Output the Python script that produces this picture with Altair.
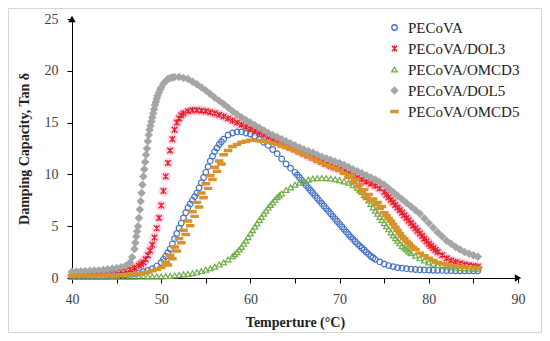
import altair as alt
import pandas as pd

# Temperature sampling (°C)
T = [40.0, 40.5, 41.0, 41.5, 42.0, 42.5, 43.0, 43.5, 44.0, 44.5,
     45.0, 45.5, 46.0, 46.5, 47.0, 47.5, 48.0, 48.5, 49.0, 49.5,
     50.0, 50.5, 51.0, 51.5, 52.0, 52.5, 53.0, 53.5, 54.0, 54.5,
     55.0, 55.5, 56.0, 56.5, 57.0, 57.5, 58.0, 58.5, 59.0, 59.5,
     60.0, 60.5, 61.0, 61.5, 62.0, 62.5, 63.0, 63.5, 64.0, 64.5,
     65.0, 65.5, 66.0, 66.5, 67.0, 67.5, 68.0, 68.5, 69.0, 69.5,
     70.0, 70.5, 71.0, 71.5, 72.0, 72.5, 73.0, 73.5, 74.0, 74.5,
     75.0, 75.5, 76.0, 76.5, 77.0, 77.5, 78.0, 78.5, 79.0, 79.5,
     80.0, 80.5, 81.0, 81.5, 82.0, 82.5, 83.0, 83.5, 84.0, 84.5,
     85.0, 85.5]

PECoVA = [0.15, 0.15, 0.16, 0.17, 0.18, 0.19, 0.20, 0.21, 0.23, 0.25,
          0.27, 0.30, 0.33, 0.37, 0.42, 0.50, 0.60, 0.72, 0.90, 1.15,
          1.5, 2.1, 2.8, 3.8, 4.8, 5.8, 6.8, 7.5, 8.2, 9.2,
          10.2, 11.3, 12.2, 12.9, 13.4, 13.8, 14.0, 14.1, 14.1, 14.0,
          13.9, 13.7, 13.4, 13.1, 12.8, 12.4, 12.0, 11.5, 11.0, 10.6,
          10.2, 9.7, 9.2, 8.7, 8.2, 7.7, 7.2, 6.7, 6.2, 5.7,
          5.2, 4.7, 4.2, 3.75, 3.3, 2.9, 2.5, 2.1, 1.8, 1.55,
          1.35, 1.2, 1.1, 1.0, 0.95, 0.9, 0.85, 0.82, 0.8, 0.78,
          0.76, 0.75, 0.74, 0.73, 0.72, 0.71, 0.7, 0.7, 0.7, 0.7,
          0.7, 0.7]
PECoVA_xT = [50.25, 50.75, 51.25, 51.75, 52.25, 52.75, 53.25, 53.75, 54.25, 54.75,
             55.25, 55.75, 56.25, 56.75, 65.25, 65.75, 66.25, 66.75, 67.25, 67.75,
             68.25, 68.75, 69.25, 69.75, 70.25, 70.75, 71.25, 71.75, 72.25, 72.75,
             73.25, 73.75]
PECoVA_xV = [1.8, 2.45, 3.3, 4.3, 5.3, 6.3, 7.15, 7.85, 8.7, 9.7,
             10.75, 11.75, 12.55, 13.15, 9.95, 9.45, 8.95, 8.45, 7.95, 7.45,
             6.95, 6.45, 5.95, 5.45, 4.95, 4.45, 3.97, 3.52, 3.1, 2.7,
             2.3, 1.95]

DOL3 = [0.30, 0.31, 0.32, 0.33, 0.35, 0.37, 0.39, 0.41, 0.44, 0.48,
        0.55, 0.62, 0.70, 0.82, 1.0, 1.2, 1.5, 2.2, 3.2, 4.8,
        7.0, 9.8, 12.3, 14.3, 15.4, 15.9, 16.1, 16.2, 16.2, 16.15,
        16.1, 16.0, 15.9, 15.75, 15.6, 15.4, 15.2, 15.0, 14.8, 14.6,
        14.4, 14.2, 14.0, 13.8, 13.6, 13.4, 13.2, 13.0, 12.8, 12.6,
        12.4, 12.2, 12.0, 11.8, 11.6, 11.4, 11.2, 11.0, 10.8, 10.65,
        10.5, 10.3, 10.1, 9.9, 9.7, 9.5, 9.3, 9.1, 8.9, 8.65,
        8.3, 7.8, 7.3, 6.8, 6.3, 5.8, 5.3, 4.8, 4.3, 3.8,
        3.3, 2.9, 2.5, 2.2, 1.9, 1.7, 1.55, 1.42, 1.3, 1.22,
        1.15, 1.1]
DOL3_xT = [47.75, 48.25, 48.75, 49.25, 49.75, 50.25, 50.75, 51.25, 51.75, 52.25,
           75.25, 75.75, 76.25, 76.75, 77.25, 77.75, 78.25, 78.75, 79.25, 79.75,
           80.25, 80.75]
DOL3_xV = [1.35, 1.8, 2.65, 3.9, 5.8, 8.4, 11.1, 13.4, 15.0, 15.7,
           8.05, 7.55, 7.05, 6.55, 6.05, 5.55, 5.05, 4.55, 4.05, 3.55,
           3.1, 2.7]

OMCD3 = [0.10, 0.10, 0.10, 0.10, 0.10, 0.10, 0.11, 0.11, 0.11, 0.12,
         0.12, 0.12, 0.13, 0.13, 0.13, 0.14, 0.14, 0.15, 0.15, 0.15,
         0.15, 0.17, 0.2, 0.25, 0.3, 0.35, 0.4, 0.47, 0.55, 0.67,
         0.8, 0.95, 1.1, 1.3, 1.5, 1.8, 2.1, 2.5, 3.0, 3.6,
         4.3, 4.95, 5.6, 6.2, 6.8, 7.3, 7.8, 8.15, 8.5, 8.75,
         9.0, 9.2, 9.35, 9.5, 9.6, 9.63, 9.65, 9.63, 9.6, 9.53,
         9.45, 9.33, 9.2, 8.95, 8.7, 8.3, 7.8, 7.15, 6.5, 5.9,
         5.3, 4.7, 4.1, 3.6, 3.1, 2.75, 2.4, 2.15, 1.9, 1.7,
         1.5, 1.37, 1.25, 1.17, 1.1, 1.05, 1.0, 0.97, 0.95, 0.92,
         0.9, 0.9]
OMCD3_xT = [58.25, 58.75, 59.25, 59.75, 60.25, 60.75, 61.25, 61.75, 62.25, 62.75,
            63.25, 72.25, 72.75, 73.25, 73.75, 74.25, 74.75, 75.25, 75.75, 76.25,
            76.75, 77.25, 77.75]
OMCD3_xV = [2.3, 2.75, 3.3, 3.95, 4.62, 5.27, 5.9, 6.5, 7.05, 7.55,
            7.98, 8.5, 8.05, 7.48, 6.82, 6.2, 5.6, 5.0, 4.4, 3.85,
            3.35, 2.92, 2.57]

DOL5 = [0.60, 0.62, 0.65, 0.67, 0.70, 0.72, 0.75, 0.78, 0.85, 0.90,
        0.95, 1.05, 1.15, 1.5, 2.8, 5.8, 9.8, 13.2, 15.5, 17.3,
        18.4, 19.0, 19.3, 19.4, 19.4, 19.3, 19.2, 18.95, 18.7, 18.4,
        18.1, 17.75, 17.4, 17.1, 16.8, 16.45, 16.1, 15.8, 15.5, 15.25,
        15.0, 14.75, 14.5, 14.25, 14.0, 13.8, 13.6, 13.4, 13.2, 13.0,
        12.8, 12.6, 12.4, 12.25, 12.1, 11.9, 11.7, 11.55, 11.4, 11.25,
        11.1, 10.9, 10.7, 10.5, 10.3, 10.1, 9.9, 9.7, 9.5, 9.25,
        9.0, 8.65, 8.3, 7.95, 7.6, 7.25, 6.9, 6.55, 6.2, 5.75,
        5.3, 4.85, 4.4, 4.0, 3.6, 3.3, 3.0, 2.75, 2.5, 2.35,
        2.2, 2.05]
DOL5_xT = [46.75, 47.1, 47.2, 47.3, 47.4, 47.6, 47.7, 47.8, 47.9, 48.1,
           48.2, 48.3, 48.4, 48.6, 48.7, 48.8, 48.9, 49.1, 49.2, 49.3,
           49.4, 49.6, 49.75, 49.9, 50.25, 50.75, 51.25]
DOL5_xV = [2.0, 3.4, 4.0, 4.5, 5.0, 6.6, 7.4, 8.2, 9.0, 10.5,
           11.2, 11.9, 12.5, 13.8, 14.3, 14.7, 15.1, 15.9, 16.3, 16.7,
           17.0, 17.6, 17.9, 18.2, 18.75, 19.2, 19.35]

OMCD5 = [0.20, 0.20, 0.21, 0.21, 0.22, 0.23, 0.24, 0.25, 0.26, 0.28,
         0.30, 0.32, 0.34, 0.37, 0.40, 0.45, 0.50, 0.58, 0.70, 0.85,
         1.0, 1.5, 2.2, 3.0, 3.8, 4.6, 5.5, 6.4, 7.3, 8.2,
         9.1, 9.9, 10.7, 11.3, 11.9, 12.3, 12.7, 12.9, 13.1, 13.2,
         13.3, 13.3, 13.25, 13.2, 13.1, 13.0, 12.9, 12.75, 12.6, 12.45,
         12.3, 12.1, 11.9, 11.7, 11.5, 11.3, 11.1, 10.9, 10.75, 10.6,
         10.4, 10.1, 9.7, 9.25, 8.8, 8.3, 7.8, 7.45, 7.1, 6.7,
         6.3, 5.75, 5.2, 4.6, 4.0, 3.55, 3.1, 2.75, 2.4, 2.15,
         1.9, 1.7, 1.5, 1.4, 1.3, 1.22, 1.15, 1.1, 1.05, 1.02,
         1.0, 1.0]
OMCD5_xT = [50.75, 51.25, 51.75, 52.25, 52.75, 53.25, 53.75, 54.25, 54.75, 55.25,
            55.75, 56.25, 56.75, 71.25, 71.75, 72.25, 72.75, 73.25, 73.75, 74.25,
            74.75, 75.25, 75.75, 76.25, 76.75, 77.25, 77.75, 78.25]
OMCD5_xV = [1.25, 1.85, 2.6, 3.4, 4.2, 5.05, 5.95, 6.85, 7.75, 8.65,
            9.5, 10.3, 11.0, 9.9, 9.48, 9.02, 8.55, 8.05, 7.62, 7.28,
            6.9, 6.03, 5.48, 4.9, 4.3, 3.78, 3.32, 2.92]

series_names = ["PECoVA", "PECoVA/DOL3", "PECoVA/OMCD3", "PECoVA/DOL5", "PECoVA/OMCD5"]
series_values = [PECoVA, DOL3, OMCD3, DOL5, OMCD5]
series_extra = [(PECoVA_xT, PECoVA_xV), (DOL3_xT, DOL3_xV), (OMCD3_xT, OMCD3_xV),
                (DOL5_xT, DOL5_xV), (OMCD5_xT, OMCD5_xV)]

rows = []
for k, (name, vals, (xt, xv)) in enumerate(zip(series_names, series_values, series_extra)):
    for t, v in list(zip(T, vals)) + list(zip(xt, xv)):
        rows.append({"T": t, "tan": v, "series": name, "k": k})
df = pd.DataFrame(rows).sort_values(["k", "T"]).reset_index(drop=True)
df["idx"] = range(len(df))

STAR = "M-1,-1L1,1M1,-1L-1,1M0,-1.1L0,1.1"
DASH = "M-1.3,-0.4L1.3,-0.4L1.3,0.4L-1.3,0.4Z"
DIAM = "M0,-1.2L1.2,0L0,1.2L-1.2,0Z"
shapes = ["circle", STAR, "triangle-up", DIAM, DASH]
strokes = ["#4472C4", "#E0201A", "#70AD47", "#A5A5A5", "#D8922C"]
fills = ["transparent", "#E0201A", "transparent", "#A5A5A5", "#D8922C"]

xs = alt.Scale(domain=[40, 90], nice=False, zero=False)
ys = alt.Scale(domain=[0, 25], nice=False)

x_ticks = [40, 45, 50, 55, 60, 65, 70, 75, 80, 85, 90]
y_ticks = [0, 2.5, 5, 7.5, 10, 12.5, 15, 17.5, 20, 22.5, 25]

FONT = "Liberation Serif"

xaxis = alt.Axis(values=x_ticks, labelExpr="datum.value % 10 == 0 ? datum.label : ''",
                 title="Temperture (°C)", grid=False, tickSize=5, labelPadding=9,
                 titlePadding=9, domainColor="black", tickColor="black",
                 labelFlush=False, labelOverlap=False,
                 labelFont=FONT, labelFontSize=14, labelColor="#404040",
                 titleFont=FONT, titleFontSize=14, titleFontWeight="bold", titleColor="#222")
yaxis = alt.Axis(values=y_ticks, labelExpr="datum.value % 5 == 0 ? datum.label : ''",
                 title="Damping Capacity, Tan δ", grid=False, tickSize=5, labelPadding=9,
                 titlePadding=13, domainColor="black", tickColor="black",
                 labelFlush=False, labelOverlap=False,
                 labelFont=FONT, labelFontSize=14, labelColor="#404040",
                 titleFont=FONT, titleFontSize=14, titleFontWeight="bold", titleColor="#222")

halo = alt.Chart(df[df["series"] == "PECoVA/DOL3"]).mark_circle(
    size=110, color="#FF7FD0", opacity=0.3).encode(
    x=alt.X("T:Q", scale=xs, axis=xaxis),
    y=alt.Y("tan:Q", scale=ys, axis=yaxis),
)

points = alt.Chart(df).mark_point(strokeWidth=1.2, opacity=1, size=32).encode(
    x=alt.X("T:Q", scale=xs, axis=xaxis),
    y=alt.Y("tan:Q", scale=ys, axis=yaxis),
    shape=alt.Shape("series:N", scale=alt.Scale(domain=series_names, range=shapes),
                    legend=alt.Legend(title=None, orient="none", legendX=315, legendY=1)),
    stroke=alt.Stroke("series:N", scale=alt.Scale(domain=series_names, range=strokes)),
    fill=alt.Fill("series:N", scale=alt.Scale(domain=series_names, range=fills)),
    order=alt.Order("idx:Q"),
)

arrow_x = alt.Chart(pd.DataFrame({"T": [90.0], "tan": [0.0]})).mark_point(
    shape="triangle-right", size=55, filled=True, color="black", opacity=1).encode(
    x=alt.X("T:Q", scale=xs), y=alt.Y("tan:Q", scale=ys))
arrow_y = alt.Chart(pd.DataFrame({"T": [40.0], "tan": [25.0]})).mark_point(
    shape="triangle-up", size=55, filled=True, color="black", opacity=1).encode(
    x=alt.X("T:Q", scale=xs), y=alt.Y("tan:Q", scale=ys))

border = alt.Chart(pd.DataFrame({"a": [0]})).mark_rect(
    fill="white", fillOpacity=0, stroke="#d6d6d6", strokeWidth=1).encode(
    x=alt.value(-63.5), x2=alt.value(469.5), y=alt.value(-10.5), y2=alt.value(313.5))

chart = alt.layer(halo, points, arrow_x, arrow_y, border).properties(
    width=446, height=259,
    autosize=alt.AutoSizeParams(type="none"),
    padding={"left": 64, "top": 11, "right": 24, "bottom": 55},
).configure_view(stroke=None).configure_legend(
    labelFont=FONT, labelFontSize=15, labelColor="#222", symbolSize=30,
    rowPadding=5, labelOffset=6, padding=0, symbolStrokeWidth=1.3,
    title=None,
)

chart.save("out.html", embed_options={"renderer": "svg", "actions": False})
